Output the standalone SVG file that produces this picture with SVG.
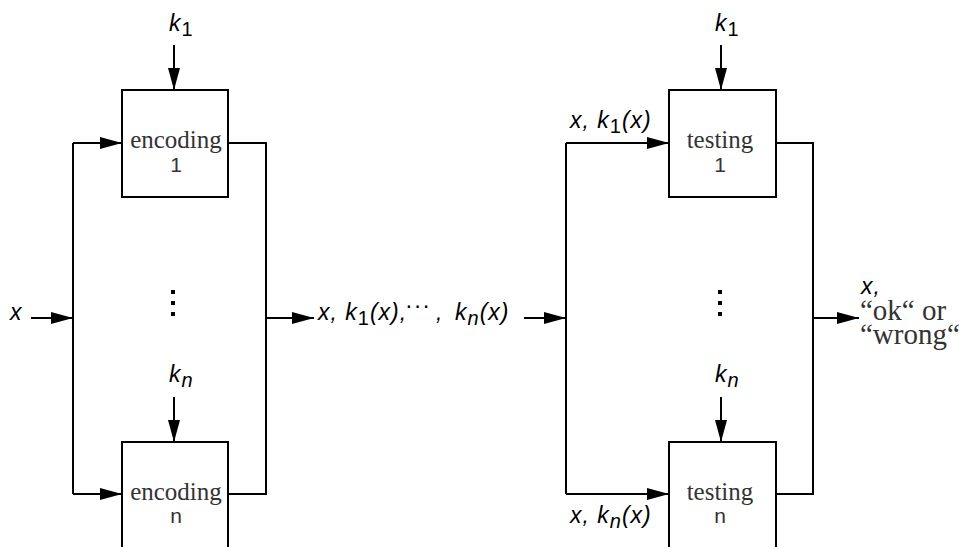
<svg xmlns="http://www.w3.org/2000/svg" width="966" height="547" viewBox="0 0 966 547">
<style>
.ln{fill:none;stroke:#000;stroke-width:2}
.box{fill:#fff;stroke:#000;stroke-width:2}
.m{font-family:"Liberation Sans",Arial,sans-serif;font-size:23px;font-style:italic;fill:#000;letter-spacing:1px}
.sub{font-style:normal;font-size:20px}
.subi{font-style:italic;font-size:20px}
.lbl{font-family:"Liberation Serif","Times New Roman",serif;font-size:25px;fill:#333;text-anchor:middle}
.num{font-family:"Liberation Sans",Arial,sans-serif;font-size:21px;fill:#333;text-anchor:middle}
.out{font-family:"Liberation Serif","Times New Roman",serif;font-size:29px;fill:#333;font-style:normal;letter-spacing:0}
</style>
<defs>
<marker id="ah" markerUnits="userSpaceOnUse" markerWidth="22" markerHeight="12" refX="22" refY="6" orient="auto">
<path d="M0,0 L22,6 L0,12 Z" fill="#000"/>
</marker>
</defs>
<g id="connectors">
<line class="ln" x1="31" y1="318" x2="73" y2="318" marker-end="url(#ah)"/>
<polyline class="ln" points="73,143 73,494"/>
<line class="ln" x1="73" y1="143" x2="122" y2="143" marker-end="url(#ah)"/>
<line class="ln" x1="73" y1="494" x2="122" y2="494" marker-end="url(#ah)"/>
<line class="ln" x1="174" y1="45" x2="174" y2="90" marker-end="url(#ah)"/>
<line class="ln" x1="174" y1="397" x2="174" y2="442" marker-end="url(#ah)"/>
<polyline class="ln" points="228,143 266,143 266,494 228,494"/>
<line class="ln" x1="266" y1="318" x2="314" y2="318" marker-end="url(#ah)"/>
<line class="ln" x1="524" y1="318" x2="566" y2="318" marker-end="url(#ah)"/>
<polyline class="ln" points="566,143 566,494"/>
<line class="ln" x1="566" y1="143" x2="669" y2="143" marker-end="url(#ah)"/>
<line class="ln" x1="566" y1="494" x2="669" y2="494" marker-end="url(#ah)"/>
<line class="ln" x1="721" y1="45" x2="721" y2="90" marker-end="url(#ah)"/>
<line class="ln" x1="721" y1="397" x2="721" y2="442" marker-end="url(#ah)"/>
<polyline class="ln" points="776,143 813,143 813,494 776,494"/>
<line class="ln" x1="813" y1="318" x2="859" y2="318" marker-end="url(#ah)"/>
</g>
<g id="enc1">
<rect class="box" x="122" y="90" width="106" height="107"/>
<text class="lbl" x="176" y="148">encoding</text>
<text class="num" x="176" y="172">1</text>
</g>
<g id="encn">
<rect class="box" x="122" y="442" width="106" height="120"/>
<text class="lbl" x="176" y="500">encoding</text>
<text class="num" x="176" y="523">n</text>
</g>
<g id="test1">
<rect class="box" x="669" y="90" width="107" height="107"/>
<text class="lbl" x="720" y="148">testing</text>
<text class="num" x="720" y="172">1</text>
</g>
<g id="testn">
<rect class="box" x="669" y="442" width="107" height="120"/>
<text class="lbl" x="720" y="500">testing</text>
<text class="num" x="720" y="523">n</text>
</g>
<g id="labels">
<text class="m" x="169" y="31">k<tspan class="sub" dy="5">1</tspan></text>
<text class="m" x="169" y="382">k<tspan class="subi" dy="5">n</tspan></text>
<text class="m" x="715" y="31">k<tspan class="sub" dy="5">1</tspan></text>
<text class="m" x="715" y="382">k<tspan class="subi" dy="5">n</tspan></text>
<text class="m" x="10" y="320">x</text>
<rect x="171" y="290" width="4" height="4"/>
<rect x="171" y="301" width="4" height="4"/>
<rect x="171" y="312" width="4" height="4"/>
<rect x="718" y="290" width="4" height="4"/>
<rect x="718" y="301" width="4" height="4"/>
<rect x="718" y="312" width="4" height="4"/>
<text class="m" x="318" y="320">x, k<tspan class="sub" dy="5">1</tspan><tspan dy="-5">(x),</tspan><tspan font-style="normal" x="405" dy="-7">···</tspan><tspan x="436" dy="7">,</tspan><tspan x="455">k</tspan><tspan class="subi" dy="5">n</tspan><tspan dy="-5">(x)</tspan></text>
<text class="m" x="570" y="128">x, k<tspan class="sub" dy="5">1</tspan><tspan dy="-5">(x)</tspan></text>
<text class="m" x="570" y="523">x, k<tspan class="subi" dy="5">n</tspan><tspan dy="-5">(x)</tspan></text>
<text class="m" x="861" y="294">x,<tspan class="out" x="860" y="320">“ok“ or</tspan><tspan class="out" x="860" y="344">“wrong“</tspan></text>
</g>
</svg>
